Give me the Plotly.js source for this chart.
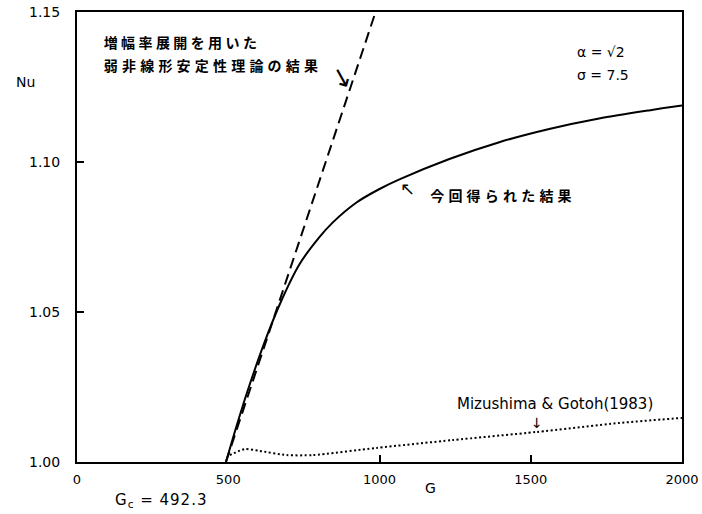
<!DOCTYPE html>
<html>
<head>
<meta charset="utf-8">
<script src="https://cdn.plot.ly/plotly-3.0.1.min.js"></script>
<style>
html,body{margin:0;padding:0;background:#fff;}
#chart{width:702px;height:514px;}
g.annotation[data-index="0"] text{letter-spacing:3.4px;}
g.annotation[data-index="1"] text{letter-spacing:4.2px;}
g.annotation[data-index="5"] text{letter-spacing:4.2px;}
g.annotation[data-index="9"] text{letter-spacing:1px;}
</style>
</head>
<body>
<div id="chart"></div>
<script>
// Present result (solid)
const presentG  = [492.3, 520, 560, 614, 670, 736, 800, 845, 924, 1000, 1066, 1231, 1396, 1561, 1726, 1891, 2000];
const presentNu = [1.000, 1.0095, 1.0225, 1.0383, 1.0525, 1.0660, 1.0748, 1.0798, 1.0865, 1.0910, 1.0942, 1.1010, 1.1066, 1.1110, 1.1145, 1.1172, 1.1188];
// Weakly nonlinear theory using amplitude expansion (dashed)
const weakG  = [492.3, 987];
const weakNu = [1.000, 1.150];
// Mizushima & Gotoh (1983) (dotted)
const mgG  = [505, 554, 604, 693, 779, 990, 1241, 1518, 1792, 2000];
const mgNu = [1.0023, 1.0043, 1.0037, 1.0023, 1.0023, 1.0047, 1.0073, 1.0100, 1.0130, 1.0147];

const xTickVals = [0, 500, 1000, 1500, 2000];
const xTickText = ['0', '500', '1000', '1500', '2000'];
const yTickVals = [1.00, 1.05, 1.10, 1.15];
const yTickText = ['1.00', '1.05', '1.10', '1.15'];
const xMinorTicks = [1000, 1500];
const yMinorTicks = [1.05, 1.10];
const Gc = 492.3;

const latin = 'DejaVu Sans, Liberation Sans, sans-serif';
const jp = 'Noto Sans CJK JP, sans-serif';

const traces = [
  {x: presentG, y: presentNu, mode: 'lines', line: {color: '#000', width: 2, shape: 'spline', smoothing: 0.8}, xaxis: 'x', yaxis: 'y', hoverinfo: 'skip'},
  {x: weakG, y: weakNu, mode: 'lines', line: {color: '#000', width: 2, dash: '11px,6px'}, xaxis: 'x', yaxis: 'y', hoverinfo: 'skip'},
  {x: mgG, y: mgNu, mode: 'lines', line: {color: '#000', width: 2, dash: '2px,2.5px', shape: 'spline', smoothing: 0.6}, xaxis: 'x2', yaxis: 'y2', hoverinfo: 'skip'}
];

const W = 702, H = 514, ML = 77, MR = 20, MT = 12, MB = 52;
const px2paperX = p => (p - ML) / (W - ML - MR);
const px2paperY = p => 1 - (p - MT) / (H - MT - MB);

const layout = {
  width: W, height: H,
  margin: {l: ML, r: MR, t: MT, b: MB},
  paper_bgcolor: '#fff', plot_bgcolor: '#fff',
  showlegend: false,
  font: {family: latin, size: 13, color: '#000'},
  xaxis: {range: [0, 2000], tickvals: xTickVals, ticktext: xTickText, ticks: '', showgrid: false, zeroline: false,
          showline: true, linewidth: 2, linecolor: '#000', mirror: true, tickfont: {size: 13, family: latin}, ticklabelstandoff: 4, fixedrange: true},
  yaxis: {range: [1.0, 1.15], tickvals: yTickVals, ticktext: yTickText, ticks: '', showgrid: false, zeroline: false,
          showline: true, linewidth: 2, linecolor: '#000', mirror: true, tickfont: {size: 14, family: latin}, ticklabelstandoff: 12, fixedrange: true},
  xaxis2: {range: [0, 2000], overlaying: 'x', anchor: 'y2', tickvals: xMinorTicks, ticks: 'inside', ticklen: 7, tickwidth: 2, tickcolor: '#000',
           showticklabels: false, showgrid: false, zeroline: false, showline: false, fixedrange: true},
  yaxis2: {range: [1.0, 1.15], overlaying: 'y', anchor: 'x2', tickvals: yMinorTicks, ticks: 'inside', ticklen: 7, tickwidth: 2, tickcolor: '#000',
           showticklabels: false, showgrid: false, zeroline: false, showline: false, fixedrange: true},
  shapes: [
    {type: 'line', xref: 'x', yref: 'y', xsizemode: 'pixel', ysizemode: 'pixel', xanchor: Gc, yanchor: 1.0,
     x0: 0, y0: 0, x1: -24, y1: -27, line: {color: '#000', width: 1.6}}
  ],
  annotations: [
    {text: '<b>増幅率展開を用いた</b>', x: px2paperX(182), y: px2paperY(42), xref: 'paper', yref: 'paper', xanchor: 'center', yanchor: 'middle', showarrow: false, font: {family: jp, size: 14}},
    {text: '<b>弱非線形安定性理論の結果</b>', x: px2paperX(213), y: px2paperY(65), xref: 'paper', yref: 'paper', xanchor: 'center', yanchor: 'middle', showarrow: false, font: {family: jp, size: 14}},
    {text: '↘', x: px2paperX(342), y: px2paperY(77), xref: 'paper', yref: 'paper', xanchor: 'center', yanchor: 'middle', textangle: 16, showarrow: false, font: {family: latin, size: 26}},
    {text: 'α = √2', x: 1646, y: 1.1367, xref: 'x', yref: 'y', xanchor: 'left', yanchor: 'middle', showarrow: false, font: {family: latin, size: 14}},
    {text: 'σ = 7.5', x: 1646, y: 1.1290, xref: 'x', yref: 'y', xanchor: 'left', yanchor: 'middle', showarrow: false, font: {family: latin, size: 14}},
    {text: '<b>今回得られた結果</b>', x: px2paperX(503), y: px2paperY(195), xref: 'paper', yref: 'paper', xanchor: 'center', yanchor: 'middle', showarrow: false, font: {family: jp, size: 14}},
    {text: '↖', x: px2paperX(407), y: px2paperY(188), xref: 'paper', yref: 'paper', xanchor: 'center', yanchor: 'middle', showarrow: false, font: {family: latin, size: 18}},
    {text: 'Mizushima &amp; Gotoh(1983)', x: 1250, y: 1.0193, xref: 'x', yref: 'y', xanchor: 'left', yanchor: 'middle', showarrow: false, font: {family: latin, size: 15}},
    {text: '↓', x: px2paperX(537), y: px2paperY(423), xref: 'paper', yref: 'paper', xanchor: 'center', yanchor: 'middle', showarrow: false, font: {family: latin, size: 14}},
    {text: 'G<sub>c</sub> = 492.3', x: px2paperX(161), y: px2paperY(500), xref: 'paper', yref: 'paper', xanchor: 'center', yanchor: 'middle', showarrow: false, font: {family: latin, size: 15}},
    {text: 'Nu', x: px2paperX(25), y: px2paperY(82), xref: 'paper', yref: 'paper', xanchor: 'center', yanchor: 'middle', showarrow: false, font: {family: latin, size: 14}},
    {text: 'G', x: px2paperX(430), y: px2paperY(488), xref: 'paper', yref: 'paper', xanchor: 'center', yanchor: 'middle', showarrow: false, font: {family: latin, size: 14}}
  ]
};

Plotly.newPlot('chart', traces, layout, {staticPlot: true, displayModeBar: false});
</script>
</body>
</html>
